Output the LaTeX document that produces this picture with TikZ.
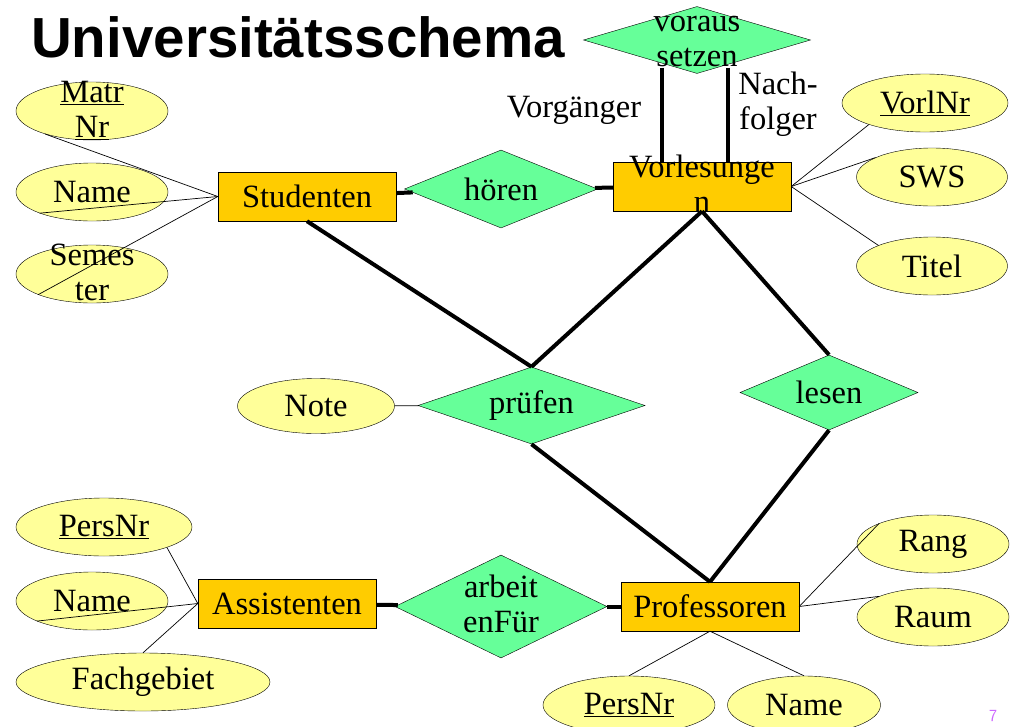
\documentclass[tikz,border=0pt]{standalone}
\usepackage{fontspec}
\setmainfont{Liberation Serif}
\newfontfamily\titlefont{Liberation Sans}
\usetikzlibrary{shapes.geometric}
\definecolor{entcol}{HTML}{FFCC00}
\definecolor{relcol}{HTML}{66FF99}
\definecolor{attcol}{HTML}{FFFF99}
\definecolor{pagecol}{HTML}{CC66FF}
\newcommand\erfont{\fontsize{32.5}{35}\selectfont}
\newcommand\twolines[2]{\smash{\raisebox{-.25em}{\begin{tabular}{@{}c@{}}#1\\#2\end{tabular}}}}

\begin{document}
\begin{tikzpicture}[x=1pt, y=-1pt, font=\erfont,
	entity/.style={draw, fill=entcol, inner sep=0pt, minimum width=178pt, minimum height=49pt},
	relation/.style={diamond, draw, fill=relcol, inner sep=0pt, aspect=3},
	attribute/.style={ellipse, draw, fill=attcol, inner sep=0pt, minimum width=152pt, minimum height=58pt},
	conn/.style={line width=4pt},
	attline/.style={line width=.7pt}]
	\useasboundingbox (0,0) rectangle (1017,726);

	\node[anchor=base west, inner sep=0pt, font=\titlefont\bfseries\fontsize{56.5}{60}\selectfont] (title) at (31,57) {Universitätsschema};

	% entities
	\node[entity] (stud) at (307,196.5) {Studenten};
	\node[entity] (vorl) at (702,186.5) {\twolines{Vorlesunge}{n}};
	\node[entity] (assi) at (287,603.5) {Assistenten};
	\node[entity] (prof) at (710,606.5) {Professoren};

	% relationships
	\node[relation, minimum width=227pt, minimum height=67pt] (voraus) at (697,40) {\twolines{voraus}{setzen}};
	\node[relation, minimum width=193pt, minimum height=78pt] (hoeren) at (501,189) {hören};
	\node[relation, minimum width=227pt, minimum height=77pt] (pruefen) at (531.5,405.5) {\raisebox{-4pt}{prüfen}};
	\node[relation, minimum width=178pt, minimum height=75pt] (lesen) at (829,392.5) {lesen};
	\node[relation, minimum width=212pt, minimum height=103pt] (arbeit) at (501,606.5) {\twolines{arbeit}{enFür}};

	% roles
	\node[anchor=base, inner sep=0pt] (vorg) at (574,117) {Vorgänger};
	\node[align=center, inner sep=0pt] (nachf) at (778,104) {Nach-\\folger};

	% attributes
	\node[attribute] (matrnr) at (92,111) {\twolines{\underline{Matr}}{\underline{Nr}}};
	\node[attribute] (sname) at (92,192) {Name};
	\node[attribute] (semester) at (92,274) {\twolines{Semes}{ter}};
	\node[attribute, minimum width=166pt] (vorlnr) at (925,103) {\underline{VorlNr}};
	\node[attribute, minimum width=151pt] (sws) at (932,177) {SWS};
	\node[attribute, minimum width=151pt] (titel) at (932,266) {Titel};
	\node[attribute, minimum width=157pt, minimum height=55pt] (note) at (316,406) {Note};
	\node[attribute, minimum width=176pt] (apersnr) at (104,527) {\underline{PersNr}};
	\node[attribute] (aname) at (92,601) {Name};
	\node[attribute, minimum width=254pt] (fach) at (143,682) {Fachgebiet};
	\node[attribute] (rang) at (933,544) {Rang};
	\node[attribute] (raum) at (933,617) {Raum};
	\node[attribute, minimum width=172pt] (ppersnr) at (629,705) {\underline{PersNr}};
	\node[attribute, minimum width=153pt] (pname) at (804,705) {Name};

	\node[font=\sffamily\fontsize{17}{19}\selectfont, text=pagecol, inner sep=0pt] (pagenr) at (993,716) {7};

	% attribute lines
	\draw[attline] (stud.west) -- (matrnr.206);
	\draw[attline] (stud.west) -- (sname.202);
	\draw[attline] (stud.west) -- (semester.201);
	\draw[attline] (vorl.east) -- (vorlnr.201);
	\draw[attline] (vorl.east) -- (sws.161);
	\draw[attline] (vorl.east) -- (titel.159);
	\draw[attline] (note) -- (pruefen);
	\draw[attline] (assi.west) -- (apersnr.342);
	\draw[attline] (assi.west) -- (aname.200);
	\draw[attline] (assi.west) -- (fach.north);
	\draw[attline] (prof.east) -- (rang.159);
	\draw[attline] (prof.east) -- (raum.159);
	\draw[attline] (prof.south) -- (ppersnr.north);
	\draw[attline] (prof.south) -- (pname.north);

	% relationship lines
	\draw[conn] (stud) -- (hoeren);
	\draw[conn] (hoeren) -- (vorl);
	\draw[conn] ([xshift=-35pt,yshift=6pt]voraus.south) -- ([xshift=-40pt]vorl.north);
	\draw[conn] ([xshift=31pt,yshift=6pt]voraus.south) -- ([xshift=26pt]vorl.north);
	\draw[conn] (stud.south) -- (pruefen.north);
	\draw[conn] (vorl.south) -- (pruefen.north);
	\draw[conn] (vorl.south) -- (lesen.north);
	\draw[conn] (pruefen.south) -- (prof.north);
	\draw[conn] (lesen.south) -- (prof.north);
	\draw[conn] (assi) -- (arbeit);
	\draw[conn] (arbeit) -- (prof);
\end{tikzpicture}
\end{document}
